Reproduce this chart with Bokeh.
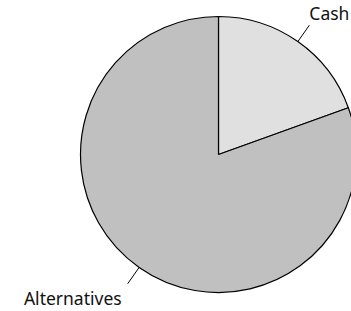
import numpy as np
from bokeh.plotting import figure
from bokeh.models import Range1d, ColumnDataSource
from bokeh.core.properties import value
from bokeh.embed import file_html
from bokeh.resources import INLINE

# Data
categories = ["Cash", "Alternatives"]
shares = [19.5, 80.5]
colors = ["#e0e0e0", "#c0c0c0"]

W, H = 351, 311
p = figure(width=W, height=H, x_range=Range1d(0, W), y_range=Range1d(0, H),
           output_backend="svg", toolbar_location=None, min_border=0)
p.axis.visible = False
p.grid.visible = False
p.outline_line_color = None

cx, cy, r = 218, H - 154, 138
frac = np.array(shares, dtype=float) / sum(shares)
cum = np.concatenate([[0.0], np.cumsum(frac)])
start = np.pi / 2 - 2 * np.pi * cum[:-1]
end = np.pi / 2 - 2 * np.pi * cum[1:]

src = ColumnDataSource(dict(cat=categories, start=start, end=end, color=colors))
p.wedge(x=cx, y=cy, radius=r, start_angle="start", end_angle="end",
        direction="clock", fill_color="color", line_color="black",
        line_width=1.2, source=src)

mid = (start + end) / 2
ux, uy = np.cos(mid), np.sin(mid)
x0, y0 = cx + r * ux, cy + r * uy
x1, y1 = cx + (r + 20) * ux, cy + (r + 20) * uy
p.segment(x0=x0, y0=y0, x1=x1, y1=y1, line_color="black", line_width=1)

for i, cat in enumerate(categories):
    right = ux[i] > 0
    up = uy[i] > 0
    p.text(x=[x1[i]], y=[y1[i]], text=[cat],
           text_align="left" if right else "right",
           text_baseline="bottom" if up else "top",
           x_offset=0 if right else -6, y_offset=0 if up else 2,
           text_font=value("Noto Sans"), text_font_size="17.5px",
           text_color="#111111")

open("out.html", "w").write(file_html(p, INLINE))
